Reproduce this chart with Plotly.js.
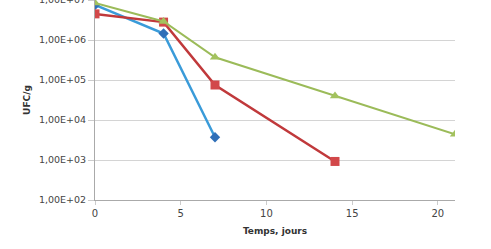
<!DOCTYPE html>
<html><head><meta charset="utf-8">
<script src="https://cdn.plot.ly/plotly-3.0.1.min.js"></script>
<style>html,body{margin:0;padding:0;background:#fff;}#chart{width:491px;height:249px;}</style>
</head><body><div id="chart"></div>
<script>
const days = [0, 4, 7, 14, 21];
const blueX = [0, 4, 7];
const blueY = [7.5e6, 1.45e6, 3.7e3];
const redX = [0, 4, 7, 14];
const redY = [4.5e6, 2.8e6, 7.5e4, 9.2e2];
const greenX = [0, 4, 7, 14, 21];
const greenY = [8.4e6, 2.9e6, 3.7e5, 4.0e4, 4.4e3];
const yTickVals = [1e2, 1e3, 1e4, 1e5, 1e6, 1e7];
const yTickText = ["1,00E+02", "1,00E+03", "1,00E+04", "1,00E+05", "1,00E+06", "1,00E+07"];
const xTickVals = [0, 5, 10, 15, 20];

const traces = [
  {x: blueX, y: blueY, mode: "lines+markers", name: "A",
   line: {color: "#3a9bd9", width: 2.5},
   marker: {symbol: "diamond", size: 8, color: "#2f6fb8"}},
  {x: redX, y: redY, mode: "lines+markers", name: "B",
   line: {color: "#c0393b", width: 2.5},
   marker: {symbol: "square", size: 9, color: "#d2484a"}},
  {x: greenX, y: greenY, mode: "lines+markers", name: "C",
   line: {color: "#9bbb59", width: 2},
   marker: {symbol: "triangle-up", size: 9, color: "#a3c25e"}}
];

const layout = {
  width: 491, height: 249,
  margin: {l: 95, r: 36, t: 0, b: 49},
  paper_bgcolor: "#fff", plot_bgcolor: "#fff",
  showlegend: false,
  font: {family: "DejaVu Sans, sans-serif", size: 9, color: "#333"},
  xaxis: {
    range: [0, 21], tickvals: xTickVals, showgrid: false, zeroline: false,
    showline: true, linecolor: "#aaa", linewidth: 1,
    ticks: "outside", ticklen: 4, tickcolor: "#ccc",
    tickfont: {size: 10, color: "#444", family: "DejaVu Sans, sans-serif"},
    title: {text: "<b>Temps, jours</b>", font: {size: 9, color: "#333"}, standoff: 9}
  },
  yaxis: {
    type: "log", range: [2, 7], tickvals: yTickVals, ticktext: yTickText,
    ticklabeloverflow: "allow",
    showgrid: true, gridcolor: "#d4d4d4", gridwidth: 1, zeroline: false,
    showline: true, linecolor: "#aaa", linewidth: 1,
    ticks: "outside", ticklen: 6, tickcolor: "#ccc",
    tickfont: {size: 9.5, color: "#444", family: "DejaVu Sans, sans-serif"},
    title: {text: "<b>UFC/g</b>", font: {size: 9, color: "#333"}, standoff: 6}
  }
};
Plotly.newPlot("chart", traces, layout, {displayModeBar: false, staticPlot: true});
</script></body></html>
